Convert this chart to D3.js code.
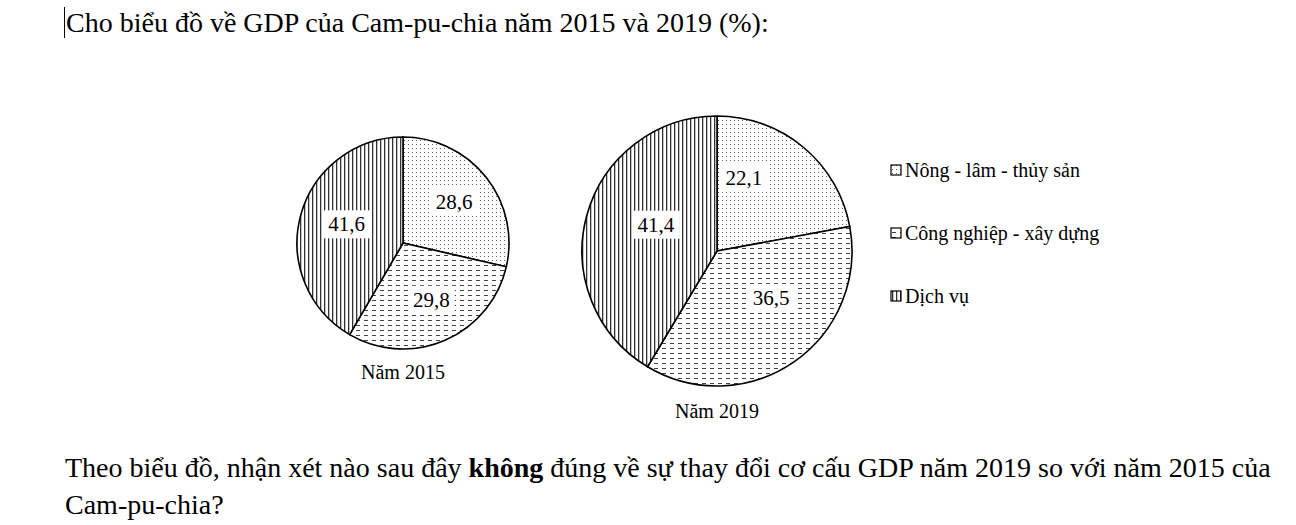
<!DOCTYPE html>
<html>
<head>
<meta charset="utf-8">
<script src="https://cdn.jsdelivr.net/npm/d3@7"></script>
<style>
  body { margin: 0; background: #fff; }
  svg { display: block; }
  svg text { font-family: "Liberation Serif", "DejaVu Serif", serif; fill: #000; }
</style>
</head>
<body>
<svg id="chart" width="1296" height="525"></svg>
<script>
// Data
const sectors = ["Nông - lâm - thủy sản", "Công nghiệp - xây dựng", "Dịch vụ"];
const years = ["Năm 2015", "Năm 2019"];
const values2015 = [28.6, 29.8, 41.6];
const values2019 = [22.1, 36.5, 41.4];
const patternIds = ["dots", "dashes", "vlines"];

const svg = d3.select("#chart");
const defs = svg.append("defs");

// Dot pattern
const pDots = defs.append("pattern")
    .attr("id", "dots").attr("patternUnits", "userSpaceOnUse")
    .attr("width", 4).attr("height", 4);
pDots.append("rect").attr("width", 4).attr("height", 4).attr("fill", "#fff");
pDots.append("rect").attr("x", 1).attr("y", 1).attr("width", 1).attr("height", 1).attr("fill", "#666");

// Dash pattern
const pDash = defs.append("pattern")
    .attr("id", "dashes").attr("patternUnits", "userSpaceOnUse")
    .attr("width", 8).attr("height", 5);
pDash.append("rect").attr("width", 8).attr("height", 5).attr("fill", "#fff");
pDash.append("rect").attr("x", 1).attr("y", 2).attr("width", 4).attr("height", 1).attr("fill", "#444");

// Vertical lines pattern
const pV = defs.append("pattern")
    .attr("id", "vlines").attr("patternUnits", "userSpaceOnUse")
    .attr("width", 4).attr("height", 4);
pV.append("rect").attr("width", 4).attr("height", 4).attr("fill", "#fff");
pV.append("rect").attr("x", 1).attr("y", 0).attr("width", 1.3).attr("height", 4).attr("fill", "#333");

// Header text
svg.append("line")
    .attr("x1", 64.5).attr("x2", 64.5).attr("y1", 7).attr("y2", 38)
    .attr("stroke", "#000").attr("stroke-width", 1);
svg.append("text")
    .attr("x", 66).attr("y", 32)
    .style("font-size", "28px")
    .text("Cho biểu đồ về GDP của Cam-pu-chia năm 2015 và 2019 (%):");

const pie = d3.pie().sort(null).value(d => d);

// label nudges (px) from the arc centroid, per slice
function drawPie(values, cx, cy, r, labelPos, nudges, caption, captionY) {
    const g = svg.append("g").attr("transform", `translate(${cx},${cy})`);
    const arc = d3.arc().innerRadius(0).outerRadius(r);
    const arcs = pie(values);

    g.selectAll("path")
        .data(arcs)
        .enter()
        .append("path")
        .attr("d", arc)
        .attr("fill", (d, i) => `url(#${patternIds[i]})`)
        .attr("stroke", "#000")
        .attr("stroke-width", 1.6);

    // Labels with white boxes
    const lab = d3.arc().innerRadius(r * labelPos).outerRadius(r * labelPos);
    arcs.forEach((d, i) => {
        const [x, y] = lab.centroid(d);
        const t = g.append("text")
            .attr("x", x + nudges[i][0]).attr("y", y + nudges[i][1])
            .attr("text-anchor", "middle")
            .attr("dy", "0.35em")
            .style("font-size", "21px")
            .text(d3.format(".1f")(d.data).replace(".", ","));
        const bb = t.node().getBBox();
        g.insert("rect", "text")
            .attr("x", bb.x - 5).attr("y", bb.y - 2)
            .attr("width", bb.width + 10).attr("height", bb.height + 4)
            .attr("fill", "#fff");
    });

    svg.append("text")
        .attr("x", cx).attr("y", captionY)
        .attr("text-anchor", "middle")
        .style("font-size", "20px")
        .text(caption);
}

drawPie(values2015, 403, 243, 106, 0.58, [[3, -3], [4, 0], [3, -3]], years[0], 379);
drawPie(values2019, 717, 251, 135, 0.6, [[-25, -11], [8, -20], [17, -5]], years[1], 418);

// Legend
const legend = svg.append("g").attr("transform", "translate(891,0)");
const legendY = [170, 233, 296];
sectors.forEach((s, i) => {
    legend.append("rect")
        .attr("x", 0).attr("y", legendY[i] - 5)
        .attr("width", 10).attr("height", 10)
        .attr("fill", `url(#${patternIds[i]})`)
        .attr("stroke", "#000").attr("stroke-width", 1.2);
    legend.append("text")
        .attr("x", 14).attr("y", legendY[i])
        .attr("dy", "0.35em")
        .style("font-size", "20px")
        .text(s);
});

// Question text
const q = svg.append("text")
    .attr("x", 65).attr("y", 477)
    .style("font-size", "28px");
q.append("tspan").text("Theo biểu đồ, nhận xét nào sau đây ");
q.append("tspan").style("font-weight", "bold").text("không");
q.append("tspan").text(" đúng về sự thay đổi cơ cấu GDP năm 2019 so với năm 2015 của");
svg.append("text")
    .attr("x", 65).attr("y", 514)
    .style("font-size", "28px")
    .text("Cam-pu-chia?");
</script>
</body>
</html>
